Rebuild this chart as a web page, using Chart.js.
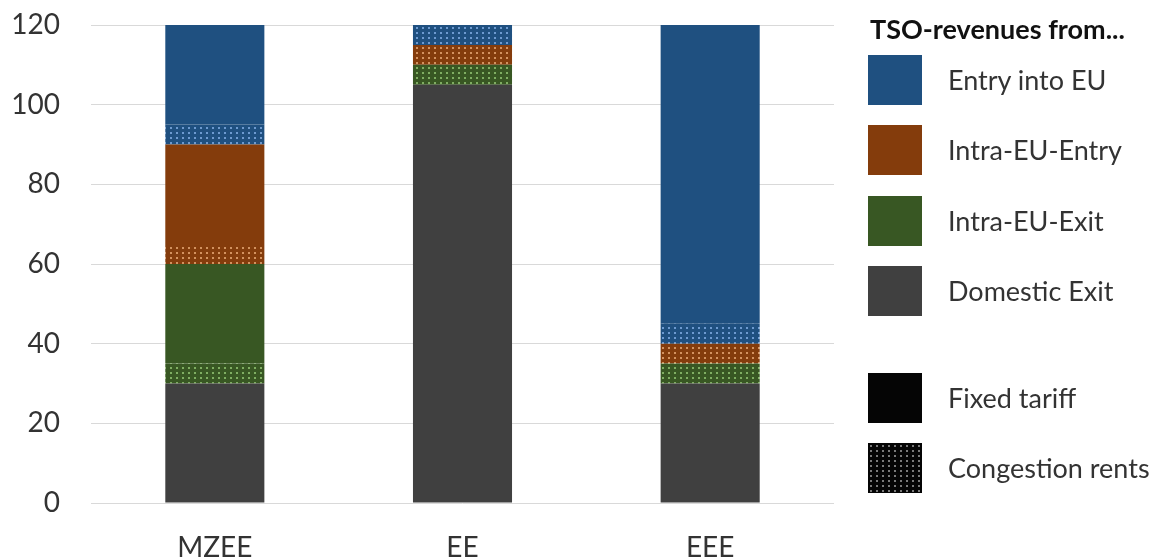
<!DOCTYPE html>
<html>
<head>
<meta charset="utf-8">
<script src="https://cdn.jsdelivr.net/npm/chart.js@4/dist/chart.umd.min.js"></script>
<style>
  html, body { margin: 0; padding: 0; background: #fff; }
  #wrap { position: relative; width: 1157px; height: 560px; font-family: 'Lato', 'Carlito', sans-serif; }
  #c { position: absolute; left: 0; top: 0; }
  .lg-title { position: absolute; left: 870px; top: 12px; font-size: 27px; font-weight: bold; color: #111; white-space: nowrap; }
  .lg-box { position: absolute; left: 868px; width: 54px; height: 50px; }
  .lg-text { position: absolute; left: 948px; font-size: 27px; color: #333; white-space: nowrap; line-height: 50px; height: 50px; }
</style>
</head>
<body>
<div id="wrap">
  <canvas id="c" width="1157" height="560"></canvas>
  <div id="legend"></div>
</div>
<script>
// ---- data ----
const categories = ['MZEE', 'EE', 'EEE'];
const domesticExitFixed      = [30, 105, 30];
const intraExitCongestion    = [5, 5, 5];
const intraExitFixed         = [25, 0, 0];
const intraEntryCongestion   = [5, 5, 5];
const intraEntryFixed        = [25, 0, 0];
const entryEUCongestion      = [5, 5, 5];
const entryEUFixed           = [25, 0, 75];
const yMin = 0, yMax = 120, yStep = 20;

const legendTitle = 'TSO-revenues from...';
const legendSeries = ['Entry into EU', 'Intra-EU-Entry', 'Intra-EU-Exit', 'Domestic Exit'];
const legendKinds = ['Fixed tariff', 'Congestion rents'];

// ---- styling ----
const COL = {
  blue:   { base: '#1F5080', dot: '#6d9ad0' },
  orange: { base: '#843C0C', dot: '#d3925f' },
  green:  { base: '#385723', dot: '#7fae62' },
  grey:   { base: '#404040', dot: '#8a8a8a' },
  black:  { base: '#050505', dot: '#7a7a7a' }
};
const FONT = "'Lato', 'Carlito', sans-serif";

function makePattern(base, dot) {
  const t = document.createElement('canvas');
  t.width = 6; t.height = 5;
  const g = t.getContext('2d');
  g.fillStyle = base; g.fillRect(0, 0, 6, 5);
  g.fillStyle = dot; g.fillRect(2, 2, 2, 2);
  return document.getElementById('c').getContext('2d').createPattern(t, 'repeat');
}

const datasets = [
  { label: 'Domestic Exit – Fixed tariff', data: domesticExitFixed, backgroundColor: COL.grey.base },
  { label: 'Intra-EU-Exit – Congestion rents', data: intraExitCongestion, backgroundColor: makePattern(COL.green.base, COL.green.dot) },
  { label: 'Intra-EU-Exit – Fixed tariff', data: intraExitFixed, backgroundColor: COL.green.base },
  { label: 'Intra-EU-Entry – Congestion rents', data: intraEntryCongestion, backgroundColor: makePattern(COL.orange.base, COL.orange.dot) },
  { label: 'Intra-EU-Entry – Fixed tariff', data: intraEntryFixed, backgroundColor: COL.orange.base },
  { label: 'Entry into EU – Congestion rents', data: entryEUCongestion, backgroundColor: makePattern(COL.blue.base, COL.blue.dot) },
  { label: 'Entry into EU – Fixed tariff', data: entryEUFixed, backgroundColor: COL.blue.base }
].map(d => Object.assign(d, { stack: 's', borderWidth: 0, barPercentage: 0.4, categoryPercentage: 1.0 }));

new Chart(document.getElementById('c'), {
  type: 'bar',
  data: { labels: categories, datasets },
  options: {
    responsive: false,
    animation: false,
    layout: { padding: { left: 0, right: 323, top: 25, bottom: 0 } },
    plugins: { legend: { display: false }, tooltip: { enabled: false } },
    scales: {
      x: {
        stacked: true,
        grid: { display: false, drawTicks: false },
        border: { display: false },
        ticks: { color: '#333', font: { family: FONT, size: 28 }, padding: 28 },
        afterFit: s => { s.height = 57; s.paddingLeft = 0; s.paddingRight = 0; }
      },
      y: {
        stacked: true,
        min: yMin, max: yMax,
        grid: { color: '#D9D9D9', lineWidth: 1, drawTicks: false },
        border: { display: false },
        ticks: { stepSize: yStep, color: '#333', font: { family: FONT, size: 28 }, padding: 31 },
        afterFit: s => { s.width = 91; s.paddingTop = 0; s.paddingBottom = 0; }
      }
    }
  }
});

// ---- legend (HTML) ----
const lg = document.getElementById('legend');
const title = document.createElement('div');
title.className = 'lg-title'; title.textContent = legendTitle; lg.appendChild(title);
const boxTops = [55, 125, 196, 266, 373, 443];
const entries = [
  { text: legendSeries[0], c: COL.blue.base },
  { text: legendSeries[1], c: COL.orange.base },
  { text: legendSeries[2], c: COL.green.base },
  { text: legendSeries[3], c: COL.grey.base },
  { text: legendKinds[0], c: COL.black.base },
  { text: legendKinds[1], c: COL.black.base, pat: true }
];
entries.forEach((e, i) => {
  const b = document.createElement('div');
  b.className = 'lg-box';
  b.style.top = boxTops[i] + 'px';
  b.style.backgroundColor = e.c;
  if (e.pat) {
    const t = document.createElement('canvas'); t.width = 54; t.height = 50;
    const g = t.getContext('2d');
    g.fillStyle = COL.black.base; g.fillRect(0, 0, 54, 50);
    g.fillStyle = COL.black.dot;
    for (let y = 2; y < 50; y += 5) for (let x = 2; x < 54; x += 6) g.fillRect(x, y, 2, 2);
    b.style.backgroundImage = 'url(' + t.toDataURL() + ')';
  }
  lg.appendChild(b);
  const tx = document.createElement('div');
  tx.className = 'lg-text';
  tx.style.top = boxTops[i] + 'px';
  tx.textContent = e.text;
  lg.appendChild(tx);
});
</script>
</body>
</html>
